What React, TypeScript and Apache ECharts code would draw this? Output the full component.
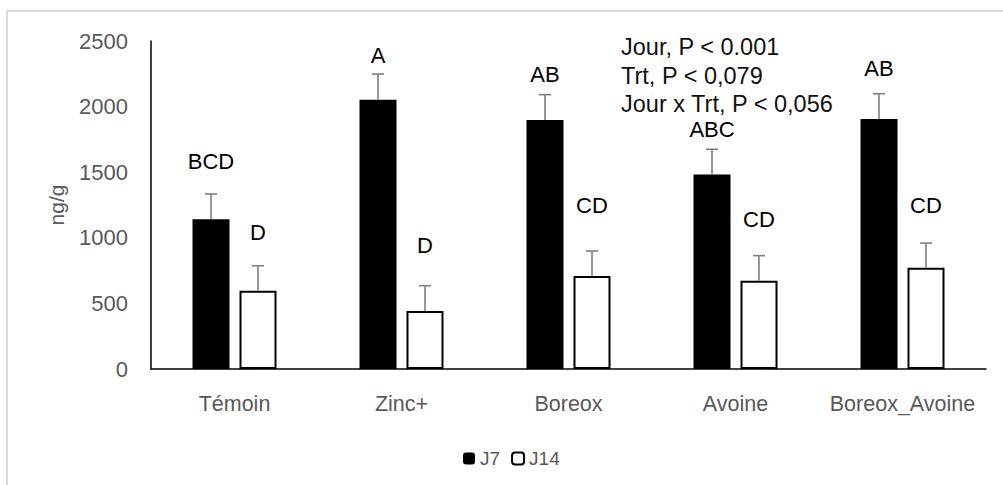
import React, { useEffect, useRef } from "react";
import * as echarts from "echarts";

const categories = ["Témoin", "Zinc+", "Boreox", "Avoine", "Boreox_Avoine"];
const j7Values = [1141, 2053, 1898, 1483, 1905];
const j7Errors = [193, 195, 193, 192, 193];
const j14Values = [597, 442, 709, 673, 772];
const j14Errors = [190, 193, 190, 191, 188];
const j7Letters = ["BCD", "A", "AB", "ABC", "AB"];
const j14Letters = ["D", "D", "CD", "CD", "CD"];
const j7LetterHeights = [1580, 2386, 2241, 1822, 2287];
const j14LetterHeights = [1037, 945, 1250, 1143, 1245];
const yTicks = { min: 0, max: 2500, interval: 500 };
const statLines = ["Jour, P < 0.001", "Trt, P < 0,079", "Jour x Trt, P < 0,056"];

const FONT = "'Liberation Sans', Arial, sans-serif";
const BAR_W = 37;
const GAP = 10;

function errSeries(name: string, values: number[], errors: number[], letters: string[], heights: number[], sign: number) {
  return {
    type: "custom",
    name: name + "_err",
    z: 5,
    silent: true,
    data: values.map((v, i) => [i, v, errors[i], heights[i]]),
    renderItem: (params: any, api: any) => {
      const i = api.value(0);
      const v = api.value(1);
      const e = api.value(2);
      const h = api.value(3);
      const base = api.coord([i, v]);
      const top = api.coord([i, v + e]);
      const lab = api.coord([i, h]);
      const x = base[0] + sign * (BAR_W + GAP) / 2;
      const st = { stroke: "#7f7f7f", lineWidth: 1.6 };
      return {
        type: "group",
        children: [
          { type: "line", shape: { x1: x, y1: base[1], x2: x, y2: top[1] }, style: st },
          { type: "line", shape: { x1: x - 6, y1: top[1], x2: x + 6, y2: top[1] }, style: st },
          {
            type: "text",
            x: x,
            y: lab[1],
            style: {
              text: letters[params.dataIndex],
              fill: "#000",
              fontSize: 22,
              fontFamily: FONT,
              align: "center",
              verticalAlign: "middle",
            },
          },
        ],
      };
    },
  };
}

export default function App() {
  const ref = useRef<HTMLDivElement>(null);
  useEffect(() => {
    document.body.style.margin = "0";
    const chart = echarts.init(ref.current!, null, { renderer: "svg" });
    chart.setOption({
      animation: false,
      backgroundColor: "#fff",
      textStyle: { fontFamily: FONT },
      grid: { left: 151, right: 17, top: 41, bottom: 116, containLabel: false },
      legend: {
        data: ["J7", "J14"],
        top: 444,
        left: 458,
        itemWidth: 12,
        itemHeight: 12,
        itemGap: 11,
        textStyle: { color: "#595959", fontSize: 19, fontFamily: FONT },
      },
      graphic: [
        {
          type: "rect",
          shape: { x: 7, y: 11, width: 1010, height: 500 },
          style: { fill: "none", stroke: "#d9d9d9", lineWidth: 2 },
          silent: true,
        },
        {
          type: "text",
          left: 621,
          top: 33,
          style: {
            text: statLines.join("\n"),
            fill: "#111",
            fontSize: 23.5,
            fontFamily: FONT,
            lineHeight: 28.5,
          },
        },
      ],
      xAxis: {
        type: "category",
        data: categories,
        axisLine: { show: true, lineStyle: { color: "#000", width: 1.5 } },
        axisTick: { show: false },
        axisLabel: { color: "#595959", fontSize: 21.5, fontFamily: FONT, margin: 24, interval: 0 },
      },
      yAxis: {
        type: "value",
        min: yTicks.min,
        max: yTicks.max,
        interval: yTicks.interval,
        name: "ng/g",
        nameLocation: "middle",
        nameGap: 84,
        nameTextStyle: { color: "#595959", fontSize: 21, fontFamily: FONT },
        axisLine: { show: true, lineStyle: { color: "#000", width: 1.5 } },
        axisTick: { show: false },
        splitLine: { show: false },
        axisLabel: {
          color: "#595959",
          fontSize: 22,
          fontFamily: FONT,
          margin: 23,
          formatter: (v: number) => String(v),
        },
      },
      series: [
        {
          name: "J7",
          type: "bar",
          data: j7Values,
          barWidth: BAR_W,
          barGap: (GAP / BAR_W) * 100 + "%",
          itemStyle: { color: "#000", borderColor: "#000", borderWidth: 0 },
        },
        {
          name: "J14",
          type: "bar",
          data: j14Values,
          barWidth: BAR_W,
          itemStyle: { color: "#fff", borderColor: "#000", borderWidth: 2 },
        },
        errSeries("J7", j7Values, j7Errors, j7Letters, j7LetterHeights, -1),
        errSeries("J14", j14Values, j14Errors, j14Letters, j14LetterHeights, 1),
      ],
    });
    return () => chart.dispose();
  }, []);
  return <div ref={ref} style={{ width: 1003, height: 485 }} />;
}
